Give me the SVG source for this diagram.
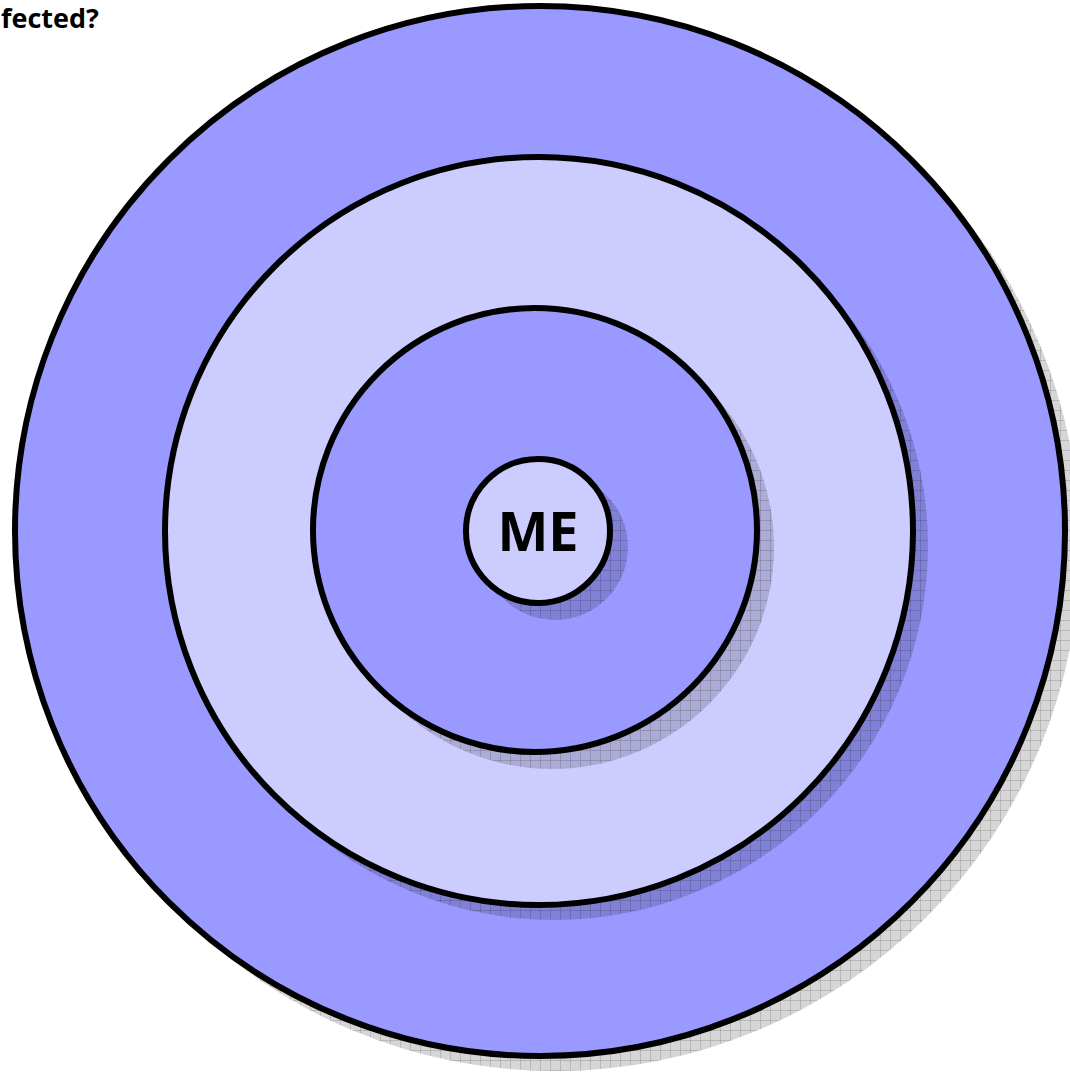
<svg xmlns="http://www.w3.org/2000/svg" width="1070" height="1075" viewBox="0 0 1070 1075">
<defs>
<pattern id="grid" width="10" height="10" patternUnits="userSpaceOnUse">
<rect width="10" height="10" fill="#000" fill-opacity="0.16"/>
<path d="M0 0.5H10M0.5 0V10" stroke="#000" stroke-opacity="0.14" stroke-width="1"/>
</pattern>
<style>
.sh{fill:url(#grid);stroke:none}
.c{stroke:#000;stroke-width:6}
.dark{fill:#9999FF}
.light{fill:#CCCCFF}
.t{font-family:"Open Sans","Liberation Sans",sans-serif;font-weight:bold;fill:#000}
</style>
</defs>
<rect width="1070" height="1075" fill="#fff"/>
<text class="t" x="1" y="28" font-size="27">fected?</text>
<g id="ring-outer">
<circle class="sh" cx="555" cy="546" r="525"/>
<circle class="c dark" cx="540" cy="531" r="525"/>
</g>
<g id="ring-second">
<circle class="sh" cx="554" cy="546" r="374"/>
<circle class="c light" cx="539" cy="531" r="374"/>
</g>
<g id="ring-third">
<circle class="sh" cx="552" cy="547" r="222"/>
<circle class="c dark" cx="535" cy="530" r="222"/>
</g>
<g id="me">
<circle class="sh" cx="555" cy="547" r="73"/>
<circle class="c light" cx="538" cy="531" r="72"/>
<text class="t" x="538" y="551" font-size="54" text-anchor="middle">ME</text>
</g>
<g id="connectors"/>
</svg>
